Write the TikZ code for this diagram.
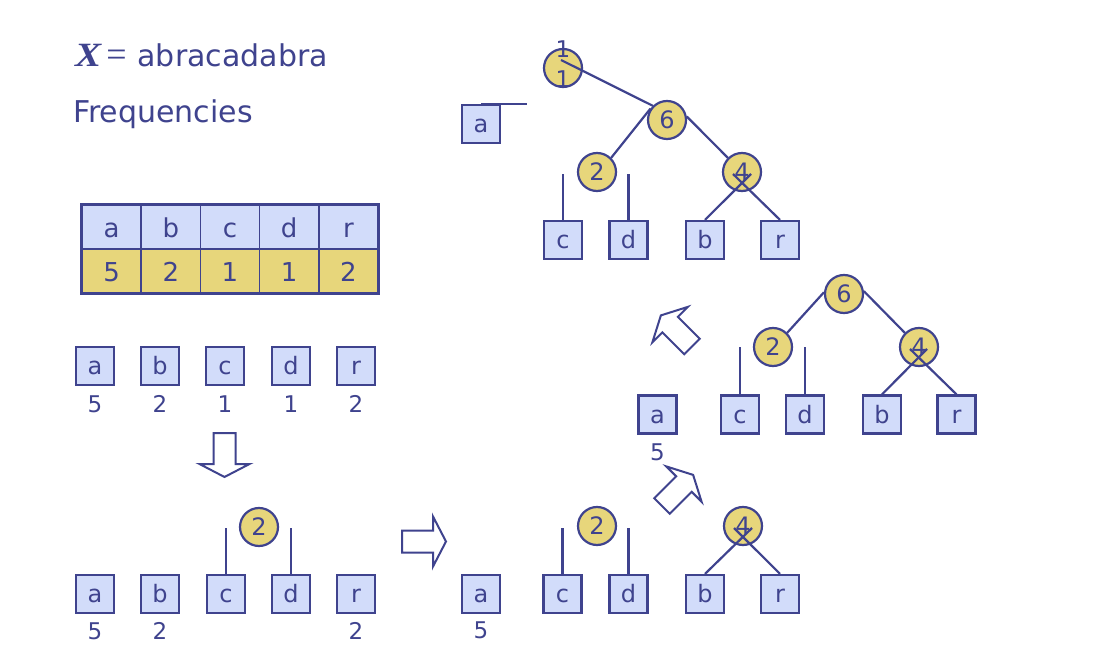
\documentclass[tikz,border=0pt]{standalone}
\usepackage{fontspec}
\setmainfont{DejaVu Sans}
\newfontfamily\timesfont{Liberation Serif}
\usetikzlibrary{calc}
\definecolor{ink}{HTML}{3F438E}
\definecolor{leaf}{HTML}{D2DCFA}
\definecolor{weight}{HTML}{E7D67B}

\tikzset{
  leafbox/.style={draw=ink, fill=leaf, line width=2.2pt, minimum size=38pt,
    inner sep=0pt, text=ink, font=\fontsize{24}{24}\selectfont,
    text height=18pt, text depth=1pt},
  weightnode/.style={circle, draw=ink, fill=weight, line width=2.2pt,
    minimum size=38pt, inner sep=0pt, text=ink, font=\fontsize{24}{24}\selectfont,
    text height=17.5pt, text depth=0pt},
  freq/.style={anchor=base, text=ink, inner sep=0pt, font=\fontsize{23}{23}\selectfont},
  edge/.style={draw=ink, line width=2.2pt},
  cellhead/.style={draw=ink, fill=leaf, line width=1.6pt, minimum width=59.2pt,
    minimum height=44pt, inner sep=0pt, text=ink, font=\fontsize{26}{26}\selectfont,
    text height=23pt, text depth=1pt},
  cellfreq/.style={cellhead, fill=weight},
  blockarrow/.style={draw=ink, fill=white, line width=2pt, line join=miter},
  title/.style={anchor=base west, inner sep=0pt, text=ink, font=\fontsize{30}{30}\selectfont},
  % hollow block arrow, tail centre at the origin, pointing along +x
  pics/hollowarrow/.style={code={
    \draw[blockarrow] (0,-11) -- (31,-11) -- (31,-25) -- (44,0) -- (31,25) -- (31,11) -- (0,11) -- cycle;
  }},
}

\begin{document}
\begin{tikzpicture}[x=1pt, y=-1pt]
\useasboundingbox[fill=white] (0,0) rectangle (1106,660);

% heading
\node[title] (word) at (75,67) {\scalebox{1.15}[1]{\fontsize{34}{34}\timesfont\bfseries\itshape X}\kern5pt{\fontsize{36}{36}\timesfont =}\kern11pt abracadabra};
\node[title] (freqtitle) at (73,123) {Frequencies};

% frequency table
\foreach \l/\f [count=\i] in {a/5,b/2,c/1,d/1,r/2} {
  \node[cellhead] (th\l) at ({82+59.2*(\i-0.5)},227) {\l};
  \node[cellfreq] (tf\l) at ({82+59.2*(\i-0.5)},271) {\f};
}
\draw[ink, line width=3.2pt] (tha.north west) rectangle (tfr.south east);

% initial leaves
\foreach \l/\x/\f in {a/95/5, b/160/2, c/225/1, d/291/1, r/356/2} {
  \node[leafbox] (p\l) at (\x,366) {\l};
  \node[freq] (pn\l) at (\x,412) {\f};
}
\pic[rotate=-90] at (224.5,433) {hollowarrow};

% step 1: c and d merged
\foreach \l/\x in {a/95, b/160, c/226, d/291, r/356} {
  \node[leafbox] (q\l) at (\x,594) {\l};
}
\node[freq] (qna) at (95,639) {5};
\node[freq] (qnb) at (160,639) {2};
\node[freq] (qnr) at (356,639) {2};
\node[weightnode] (q2) at (259,527) {2};
\draw[edge] (qc.north) -- ++(0,-46);
\draw[edge] (qd.north) -- ++(0,-46);
\pic at (402,541.5) {hollowarrow};

% step 2: b and r merged
\foreach \l/\x in {a/481, c/562.5, d/628.5, b/705, r/780} {
  \node[leafbox] (u\l) at (\x,594) {\l};
}
\node[freq] (una) at (481,638) {5};
\node[weightnode] (u2) at (597,526) {2};
\node[weightnode] (u4) at (743,526) {4};
\draw[edge] (uc.north) -- ++(0,-46);
\draw[edge] (ud.north) -- ++(0,-46);
\draw[edge] (ub.north) -- ([shift={(9,2)}]u4.center);
\draw[edge] (ur.north) -- ([shift={(-9,2)}]u4.center);
\pic[rotate=45] at (662,506) {hollowarrow};

% step 3: subtree of weight 6
\foreach \l/\x in {a/657.5, c/740, d/805, b/882, r/956.5} {
  \node[leafbox] (v\l) at (\x,414.5) {\l};
}
\node[freq] (vna) at (657.5,460) {5};
\node[weightnode] (v6) at (844,294) {6};
\node[weightnode] (v2) at (773,347) {2};
\node[weightnode] (v4) at (919,347) {4};
\draw[edge] (v6.175) -- (v2.45);
\draw[edge] (v6.8) -- (v4.135);
\draw[edge] (vc.north) -- ++(0,-47);
\draw[edge] (vd.north) -- ++(0,-47);
\draw[edge] (vb.north) -- ([shift={(8,2)}]v4.center);
\draw[edge] (vr.north) -- ([shift={(-9,2)}]v4.center);
\pic[rotate=135] at (692,346.5) {hollowarrow};

% step 4: full tree of weight 11
\node[leafbox] (wa) at (481,124) {a};
\draw[edge] (wa.north) -- ++(46,0);
\foreach \l/\x in {c/563, d/628.5, b/705, r/780} {
  \node[leafbox] (w\l) at (\x,240) {\l};
}
\node[weightnode] (w11) at (563,68) {};
\node[freq] (w11top) at (563,58) {1};
\node[freq] (w11bot) at (563,88) {1};
\node[weightnode] (w6) at (667,120) {6};
\node[weightnode] (w2) at (597,172) {2};
\node[weightnode] (w4) at (742,172) {4};
\draw[edge] ([shift={(-2,-8)}]w11.center) -- (w6.135);
\draw[edge] (w6.145) -- (w2.45);
\draw[edge] (w6.10) -- (w4.135);
\draw[edge] (wc.north) -- ++(0,-46);
\draw[edge] (wd.north) -- ++(0,-46);
\draw[edge] (wb.north) -- ([shift={(9,2)}]w4.center);
\draw[edge] (wr.north) -- ([shift={(-9,2)}]w4.center);
\end{tikzpicture}
\end{document}
